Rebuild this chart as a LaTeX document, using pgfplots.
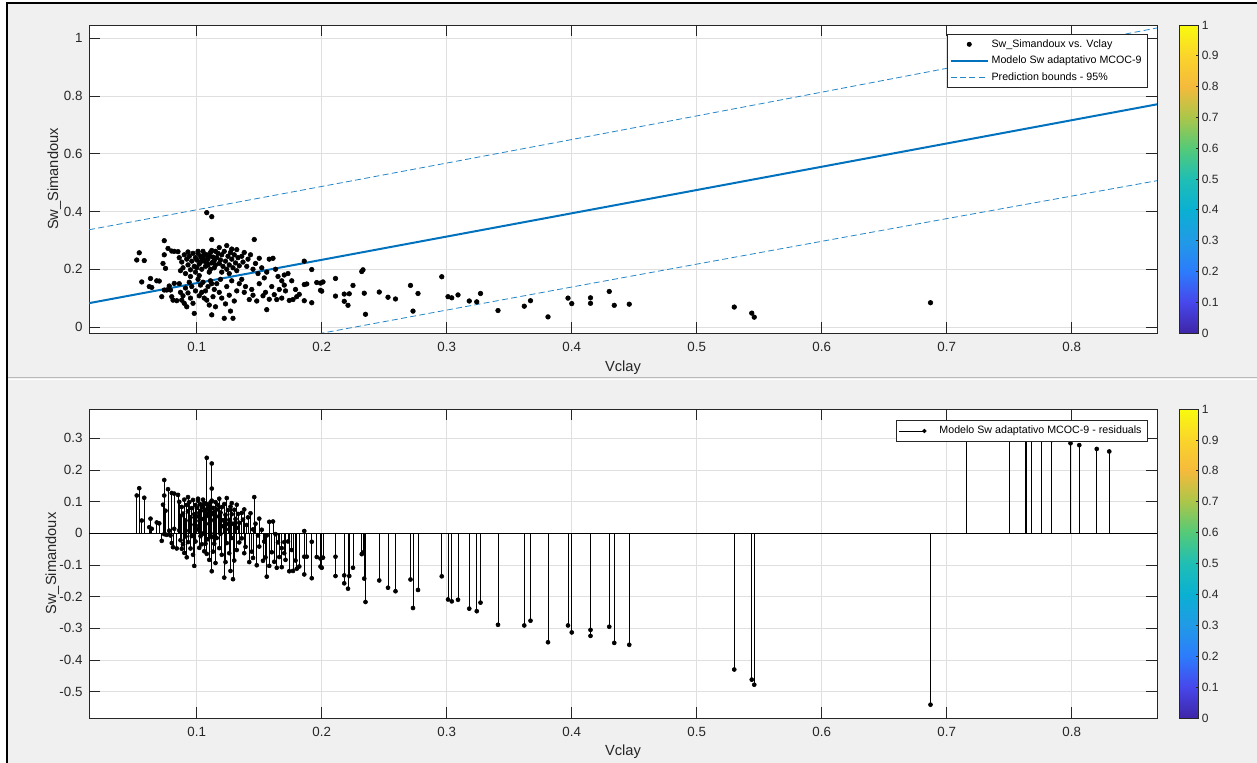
\documentclass[border=0pt]{standalone}
\usepackage{fontspec}
\setmainfont{Liberation Sans}
\usepackage{pgfplots}
\usepackage{pgfplotstable}
\pgfplotsset{compat=1.18}
\definecolor{mblue}{RGB}{0,114,189}
\definecolor{figbg}{RGB}{240,240,240}
\definecolor{axgray}{RGB}{38,38,38}
\definecolor{gridgray}{RGB}{223,223,223}

\pgfplotstableread{
x y r
0.052 0.232 0.119
0.054 0.257 0.142
0.058 0.230 0.112
0.056 0.156 0.040
0.063 0.168 0.046
0.062 0.140 0.019
0.064 0.137 0.014
0.068 0.160 0.034
0.070 0.159 0.031
0.074 0.299 0.168
0.077 0.272 0.139
0.073 0.220 0.090
0.075 0.203 0.071
0.074 0.250 0.119
0.080 0.263 0.127
0.082 0.262 0.125
0.085 0.261 0.121
0.072 0.105 -0.024
0.074 0.128 -0.003
0.076 0.128 -0.005
0.079 0.128 -0.007
0.078 0.142 0.008
0.082 0.151 0.014
0.081 0.093 -0.044
0.084 0.091 -0.048
0.080 0.105 -0.031
0.088 0.093 -0.049
0.090 0.082 -0.062
0.092 0.070 -0.076
0.087 0.120 -0.022
0.089 0.108 -0.035
0.091 0.135 -0.010
0.093 0.118 -0.028
0.095 0.100 -0.048
0.097 0.082 -0.068
0.098 0.047 -0.103
0.096 0.140 -0.009
0.099 0.125 -0.026
0.094 0.155 0.008
0.086 0.150 0.009
0.086 0.240 0.099
0.088 0.225 0.083
0.089 0.205 0.062
0.090 0.250 0.106
0.091 0.185 0.040
0.092 0.235 0.089
0.093 0.215 0.069
0.094 0.245 0.098
0.095 0.198 0.050
0.096 0.228 0.079
0.097 0.255 0.105
0.098 0.210 0.060
0.099 0.240 0.089
0.095 0.175 0.027
0.099 0.190 0.039
0.087 0.195 0.054
0.093 0.260 0.114
0.108 0.396 0.238
0.112 0.382 0.220
0.112 0.303 0.141
0.100 0.232 0.080
0.101 0.255 0.102
0.102 0.218 0.064
0.103 0.245 0.091
0.104 0.200 0.045
0.105 0.262 0.106
0.106 0.228 0.071
0.107 0.210 0.052
0.108 0.250 0.092
0.109 0.236 0.077
0.110 0.190 0.030
0.111 0.258 0.097
0.112 0.222 0.060
0.113 0.242 0.080
0.114 0.205 0.042
0.115 0.262 0.098
0.100 0.205 0.053
0.102 0.178 0.024
0.104 0.238 0.083
0.106 0.252 0.095
0.108 0.222 0.064
0.110 0.245 0.085
0.112 0.265 0.103
0.114 0.230 0.067
0.101 0.262 0.109
0.103 0.225 0.071
0.105 0.240 0.084
0.107 0.232 0.074
0.109 0.215 0.056
0.111 0.200 0.039
0.113 0.225 0.063
0.115 0.215 0.051
0.101 0.165 0.012
0.103 0.145 -0.009
0.104 0.120 -0.035
0.106 0.100 -0.057
0.108 0.093 -0.065
0.110 0.076 -0.084
0.112 0.042 -0.120
0.114 0.130 -0.033
0.105 0.155 -0.001
0.109 0.140 -0.019
0.111 0.160 -0.001
0.113 0.105 -0.058
0.107 0.125 -0.033
0.115 0.070 -0.094
0.102 0.108 -0.046
0.112 0.150 -0.012
0.116 0.240 0.075
0.117 0.255 0.089
0.118 0.220 0.054
0.119 0.232 0.065
0.120 0.250 0.082
0.121 0.210 0.041
0.122 0.262 0.092
0.123 0.228 0.058
0.124 0.200 0.029
0.125 0.245 0.073
0.126 0.215 0.042
0.127 0.258 0.084
0.128 0.235 0.060
0.129 0.205 0.030
0.130 0.250 0.074
0.131 0.222 0.045
0.132 0.268 0.090
0.133 0.240 0.061
0.134 0.212 0.033
0.118 0.275 0.109
0.124 0.282 0.111
0.128 0.270 0.095
0.120 0.190 0.022
0.126 0.185 0.012
0.132 0.195 0.017
0.116 0.150 -0.015
0.118 0.120 -0.047
0.120 0.100 -0.068
0.122 0.030 -0.140
0.129 0.030 -0.145
0.124 0.140 -0.031
0.126 0.110 -0.063
0.128 0.160 -0.015
0.130 0.090 -0.086
0.132 0.125 -0.053
0.134 0.150 -0.029
0.119 0.165 -0.002
0.123 0.080 -0.091
0.127 0.055 -0.119
0.136 0.245 0.064
0.137 0.225 0.043
0.138 0.258 0.075
0.140 0.210 0.026
0.141 0.235 0.050
0.143 0.250 0.063
0.145 0.200 0.012
0.146 0.303 0.114
0.147 0.220 0.030
0.149 0.185 -0.007
0.150 0.238 0.046
0.152 0.205 0.011
0.154 0.170 -0.026
0.156 0.190 -0.007
0.158 0.235 0.036
0.161 0.238 0.037
0.163 0.200 -0.003
0.165 0.175 -0.029
0.168 0.160 -0.047
0.170 0.145 -0.063
0.173 0.185 -0.026
0.176 0.160 -0.053
0.179 0.130 -0.086
0.180 0.105 -0.112
0.136 0.165 -0.016
0.138 0.120 -0.063
0.139 0.140 -0.043
0.142 0.095 -0.091
0.144 0.130 -0.058
0.145 0.110 -0.078
0.148 0.090 -0.101
0.150 0.150 -0.042
0.153 0.108 -0.087
0.155 0.120 -0.076
0.156 0.060 -0.137
0.158 0.096 -0.103
0.160 0.140 -0.060
0.162 0.112 -0.090
0.164 0.095 -0.109
0.166 0.130 -0.075
0.168 0.100 -0.107
0.171 0.125 -0.084
0.174 0.092 -0.120
0.177 0.095 -0.119
0.170 0.180 -0.028
0.186 0.228 0.007
0.186 0.147 -0.074
0.188 0.149 -0.074
0.186 0.091 -0.130
0.182 0.113 -0.105
0.192 0.199 -0.027
0.192 0.084 -0.142
0.196 0.154 -0.075
0.199 0.152 -0.080
0.199 0.127 -0.105
0.201 0.156 -0.077
0.200 0.124 -0.109
0.211 0.168 -0.074
0.211 0.107 -0.135
0.218 0.114 -0.133
0.218 0.089 -0.158
0.221 0.075 -0.175
0.222 0.115 -0.135
0.225 0.144 -0.109
0.232 0.192 -0.066
0.233 0.198 -0.061
0.234 0.117 -0.143
0.235 0.044 -0.217
0.246 0.121 -0.149
0.253 0.103 -0.172
0.259 0.097 -0.183
0.271 0.144 -0.146
0.273 0.055 -0.236
0.277 0.116 -0.179
0.296 0.174 -0.136
0.301 0.105 -0.209
0.304 0.101 -0.215
0.309 0.111 -0.210
0.318 0.090 -0.238
0.324 0.087 -0.246
0.327 0.116 -0.219
0.341 0.057 -0.289
0.362 0.072 -0.291
0.367 0.091 -0.276
0.381 0.035 -0.344
0.397 0.100 -0.291
0.400 0.081 -0.313
0.415 0.101 -0.305
0.415 0.082 -0.324
0.430 0.123 -0.295
0.434 0.075 -0.346
0.446 0.079 -0.352
0.530 0.069 -0.430
0.544 0.048 -0.462
0.546 0.034 -0.478
0.687 0.084 -0.541
0.716 0.979 0.330
0.750 0.978 0.302
0.763 0.988 0.302
0.764 0.989 0.302
0.768 0.992 0.302
0.776 0.999 0.302
0.784 0.997 0.294
0.799 0.999 0.284
0.806 0.999 0.278
0.820 0.998 0.266
0.830 0.998 0.258
}\swdata

\pgfplotstableread{
x up lo
0.0138 0.3368 -0.1718
0.1 0.4060 -0.1020
0.2 0.4867 -0.0215
0.3 0.5678 0.0586
0.4 0.6492 0.1384
0.5 0.7311 0.2177
0.6 0.8133 0.2967
0.7 0.8959 0.3753
0.8682 1.0357 0.5067
}\bounds

\pgfplotsset{
  matax/.style={
    scale only axis, width=801pt,
    xmin=0.0138, xmax=0.8682,
    axis background/.style={fill=white},
    axis line style={draw=axgray, line width=0.5pt},
    every tick/.style={draw=axgray, line width=0.5pt},
    major tick length=8pt, tick align=inside,
    xtick pos=both, ytick pos=both, xticklabel pos=left, yticklabel pos=left,
    xtick={0.1,0.2,0.3,0.4,0.5,0.6,0.7,0.8},
    grid=major, major grid style={draw=gridgray, line width=0.5pt},
    tick label style={font=\fontsize{10}{12}\selectfont, text=axgray},
    xticklabel style={yshift=-3.5pt},
    yticklabel style={xshift=-1.4pt},
    label style={font=\fontsize{11}{13}\selectfont, text=axgray},
    /pgf/number format/assume math mode=true,
    point meta min=0, point meta max=1,
    colormap={parula}{rgb255=(62,38,168) rgb255=(71,71,235) rgb255=(44,124,252) rgb255=(33,154,230) rgb255=(10,176,210) rgb255=(31,190,181) rgb255=(84,202,120) rgb255=(171,198,74) rgb255=(245,186,60) rgb255=(250,212,43) rgb255=(249,251,14)},
    colorbar,
    colorbar style={
      at={(parent axis.north east)}, anchor=north west, xshift=8.25pt,
      scale only axis, width=14.25pt,
      ytick={0,0.1,0.2,0.3,0.4,0.5,0.6,0.7,0.8,0.9,1},
      yticklabel pos=right, ytick pos=right,
      tick align=inside, major tick length=2pt,
      axis line style={draw=axgray, line width=0.5pt},
      every tick/.style={draw=axgray, line width=0.5pt},
      yticklabel style={font=\fontsize{9}{11}\selectfont, text=axgray, xshift=-1pt},
      /pgf/number format/assume math mode=true,
    },
    legend cell align=left,
  }
}

\begin{document}
\begin{tikzpicture}
\fill[figbg] (0pt,0pt) rectangle (942.75pt,572.25pt);
\path[use as bounding box] (0pt,0pt) rectangle (942.75pt,572.25pt);
\fill[white] (0pt,0pt) rectangle (4.5pt,572.25pt);
\fill[white] (0pt,570.75pt) rectangle (942.75pt,572.25pt);
\draw[black, line width=1.5pt] (5.25pt,0pt) -- (5.25pt,570pt) -- (942.75pt,570pt);
\draw[gray!55, line width=0.75pt] (6pt,288.75pt) -- (942.75pt,288.75pt);
\draw[white, line width=0.75pt] (6pt,287.25pt) -- (942.75pt,287.25pt);

% ---------------- top panel ----------------
\begin{axis}[matax,
  at={(66.75pt,322.5pt)}, anchor=south west, height=231pt,
  ymin=-0.0208, ymax=1.046,
  ytick={0,0.2,0.4,0.6,0.8,1},
  xlabel={Vclay}, ylabel={Sw\_Simandoux},
  xlabel style={at={(axis description cs:0.5,-0.112)}, anchor=center},
  ylabel style={at={(axis description cs:-0.0325,0.5)}, anchor=center},
  legend style={at={(1,1)}, anchor=north east, xshift=-7.3pt, yshift=-6.8pt,
    draw=axgray, line width=0.5pt, fill=white, text=black,
    font=\fontsize{8}{9.6}\selectfont, inner xsep=2pt, inner ysep=1.8pt,
    row sep=1.2pt, /tikz/every even column/.append style={column sep=2pt}},
]
\addplot[only marks, mark=*, mark size=1.75pt, black,
  legend image code/.code={\path[draw=none] (0pt,0pt) -- (28pt,0pt); \fill[black] (14pt,0pt) circle (1.6pt);}]
  table[x=x, y=y] {\swdata};
\addlegendentry{Sw\_Simandoux vs. Vclay}
\addplot[mblue, line width=1.5pt,
  legend image code/.code={\draw[mblue, line width=1.5pt] (0pt,0pt) -- (28pt,0pt);}]
  coordinates {(0.0138,0.0825) (0.8682,0.7712)};
\addlegendentry{Modelo Sw adaptativo MCOC-9}
\addplot[mblue!85!white, line width=0.6pt, dash pattern=on 4.5pt off 2.5pt,
  legend image code/.code={\draw[mblue!85!white, line width=0.6pt, dash pattern=on 4.5pt off 2.5pt] (0pt,0pt) -- (28pt,0pt);}]
  table[x=x, y=up] {\bounds};
\addlegendentry{Prediction bounds - 95\%}
\addplot[mblue!85!white, line width=0.6pt, dash pattern=on 4.5pt off 2.5pt, forget plot]
  table[x=x, y=lo] {\bounds};
\end{axis}

% ---------------- bottom panel ----------------
\begin{axis}[matax,
  at={(66.75pt,33.75pt)}, anchor=south west, height=231.75pt,
  ymin=-0.583, ymax=0.392,
  ytick={-0.5,-0.4,-0.3,-0.2,-0.1,0,0.1,0.2,0.3},
  xlabel={Vclay}, ylabel={Sw\_Simandoux},
  xlabel style={at={(axis description cs:0.5,-0.110)}, anchor=center},
  ylabel style={at={(axis description cs:-0.0345,0.5)}, anchor=center},
  legend style={at={(1,1)}, anchor=north east, xshift=-7.3pt, yshift=-8.6pt,
    draw=axgray, line width=0.5pt, fill=white, text=black,
    font=\fontsize{8}{9.6}\selectfont, inner xsep=2pt, inner ysep=2pt,
    /tikz/every even column/.append style={column sep=2pt}},
]
\addplot[ycomb, black, line width=0.45pt, mark=*, mark size=1.5pt,
  mark options={fill=black, solid},
  legend image code/.code={\path[draw=none] (0pt,0pt) -- (28pt,0pt); \draw[black, line width=0.5pt] (0pt,0pt) -- (18.75pt,0pt); \fill[black] (18.75pt,0pt) circle (1.4pt);}]
  table[x=x, y=r] {\swdata};
\addlegendentry{Modelo Sw adaptativo MCOC-9 - residuals}
\addplot[black, line width=0.6pt, forget plot] coordinates {(0.0138,0) (0.8682,0)};
\end{axis}
\end{tikzpicture}
\end{document}
